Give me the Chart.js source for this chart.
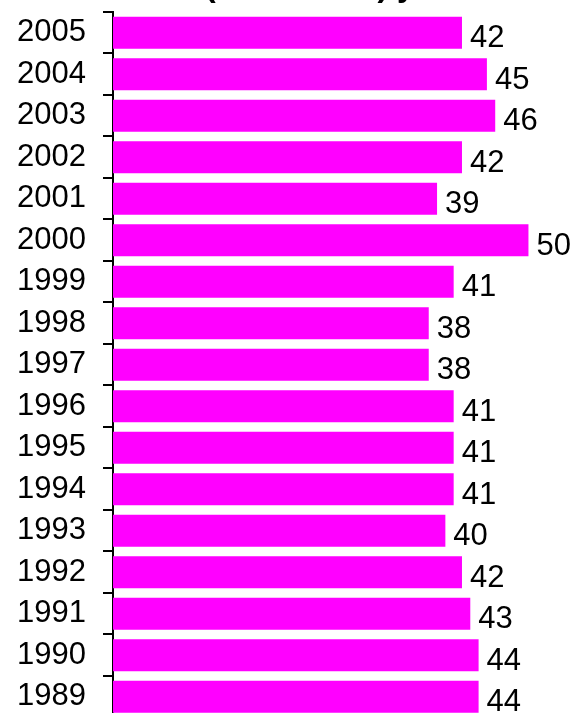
<!DOCTYPE html>
<html>
<head>
<meta charset="utf-8">
<script src="https://cdn.jsdelivr.net/npm/chart.js@4/dist/chart.umd.min.js"></script>
<style>
  html, body { margin: 0; padding: 0; overflow: hidden; background: #fff; width: 578px; height: 713px; }
  #wrap { position: absolute; left: 0; top: -40px; width: 578px; height: 793px; }
  #c { display: block; width: 578px; height: 793px; }
</style>
</head>
<body>
<div id="wrap"><canvas id="c" width="578" height="793" style="width:578px;height:793px"></canvas></div>
<script>
const titleText = "Deaths (thousands) years";
const years = ["2005","2004","2003","2002","2001","2000","1999","1998","1997","1996","1995","1994","1993","1992","1991","1990","1989"];
const values = [42, 45, 46, 42, 39, 50, 41, 38, 38, 41, 41, 41, 40, 42, 43, 44, 44];

const valueLabels = {
  id: 'valueLabels',
  afterDatasetsDraw(chart) {
    const ctx = chart.ctx;
    const meta = chart.getDatasetMeta(0);
    ctx.save();
    ctx.font = '31px "Liberation Sans", Arial, sans-serif';
    ctx.fillStyle = '#000';
    ctx.textAlign = 'left';
    ctx.textBaseline = 'middle';
    meta.data.forEach((bar, i) => {
      ctx.fillText(String(values[i]), bar.x + 8, bar.y + 6);
    });
    ctx.restore();
  }
};

new Chart(document.getElementById('c'), {
  type: 'bar',
  data: {
    labels: years,
    datasets: [{
      data: values,
      backgroundColor: '#FF00FF',
      borderWidth: 0,
      categoryPercentage: 1.0,
      barPercentage: 0.77
    }]
  },
  options: {
    indexAxis: 'y',
    responsive: false,
    maintainAspectRatio: false,
    animation: false,
    layout: { padding: { left: 0, right: 8, top: 0, bottom: 0 } },
    plugins: {
      legend: { display: false },
      tooltip: { enabled: false },
      title: {
        display: true,
        text: titleText,
        color: '#000',
        font: { family: '"Liberation Sans", Arial, sans-serif', size: 32, weight: 'bold', lineHeight: 1.2 },
        padding: { top: 8, bottom: 5.6 }
      }
    },
    scales: {
      x: { display: false, min: 0, max: 55 },
      y: {
        afterFit(scale) { scale.width = 113; },
        border: { display: true, color: '#000', width: 2 },
        grid: { display: true, drawOnChartArea: false, drawTicks: true, tickLength: 10, color: '#000', lineWidth: 2, offset: true },
        ticks: { color: '#000', padding: 17, font: { family: '"Liberation Sans", Arial, sans-serif', size: 31 } }
      }
    }
  },
  plugins: [valueLabels]
});
</script>
</body>
</html>
